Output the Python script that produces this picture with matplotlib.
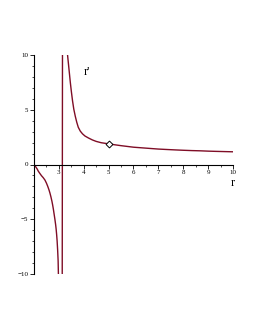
import matplotlib as mpl
mpl.use('Agg')
import matplotlib.pyplot as plt
import numpy as np

# values
r_left = [2.0, 2.04, 2.08, 2.13, 2.17, 2.23, 2.3, 2.37, 2.44, 2.5, 2.55, 2.6, 2.64, 2.68,
          2.72, 2.75, 2.78, 2.81, 2.84, 2.87, 2.89, 2.91, 2.93, 2.95, 2.97, 2.98, 3.0, 3.05, 3.1]
rp_left = [0.0, -0.12, -0.25, -0.42, -0.6, -0.8, -1.02, -1.2, -1.42, -1.7, -1.98, -2.3, -2.6, -2.95,
           -3.35, -3.7, -4.1, -4.55, -5.0, -5.5, -5.9, -6.4, -7.0, -7.8, -8.8, -9.9, -12.0, -25.0, -80.0]
r_right = [3.17, 3.2, 3.25, 3.3, 3.34, 3.38, 3.42, 3.46, 3.5, 3.55, 3.6, 3.66, 3.72, 3.78, 3.86,
           3.95, 4.05, 4.19, 4.35, 4.5, 4.7, 4.99, 5.25, 5.5, 5.75, 6.0, 6.35, 6.7, 7.0, 7.34,
           7.7, 8.0, 8.35, 8.68, 9.0, 9.3, 9.65, 10.0]
rp_right = [60.0, 25.0, 15.0, 12.0, 10.2, 9.3, 8.4, 7.5, 6.7, 5.8, 5.05, 4.4, 3.85, 3.4, 3.05,
            2.8, 2.6, 2.42, 2.24, 2.11, 1.99, 1.89, 1.8, 1.72, 1.65, 1.58, 1.52, 1.46, 1.41, 1.37,
            1.33, 1.30, 1.27, 1.25, 1.22, 1.20, 1.18, 1.16]
point = (5.0, 1.89)

xticks = [3, 4, 5, 6, 7, 8, 9, 10]
yticks = [-10, -5, 0, 5, 10]

col = '#7f0d26'
font = 'Liberation Serif'

fig = plt.figure(figsize=(2.55, 3.3), dpi=100)
ax = fig.add_axes([34/255, 56/330, 199/255, 219/330])

ax.plot(r_left + r_right, rp_left + rp_right, color=col, lw=1.0)
ax.plot([point[0]], [point[1]], marker='D', ms=3.5, mfc='white', mec='black', mew=0.7, ls='none')

ax.set_xlim(2, 10)
ax.set_ylim(-10, 10)
ax.spines['left'].set_position(('data', 2))
ax.spines['bottom'].set_position(('data', 0))
ax.spines['top'].set_visible(False)
ax.spines['right'].set_visible(False)
for s in ['left', 'bottom']:
    ax.spines[s].set_linewidth(0.8)

ax.set_xticks(xticks)
ax.set_xticklabels([str(t) for t in xticks], fontfamily=font, fontsize=5)
ax.set_yticks(yticks)
ax.set_yticklabels(['\u221210', '\u22125', '0', '5', '10'], fontfamily=font, fontsize=5)
ax.set_xticks(np.arange(2.5, 10.01, 0.5), minor=True)
ax.set_yticks(np.arange(-10, 10.01, 1), minor=True)
ax.tick_params(which='major', length=3, width=0.6, pad=1)
ax.tick_params(which='minor', length=1.5, width=0.5)

ax.text(4.0, 8.2, "r'", fontfamily=font, fontsize=9)
ax.text(10.0, -2.0, "r", fontfamily=font, fontsize=9, ha='center')

plt.savefig('out.png', dpi=100)
